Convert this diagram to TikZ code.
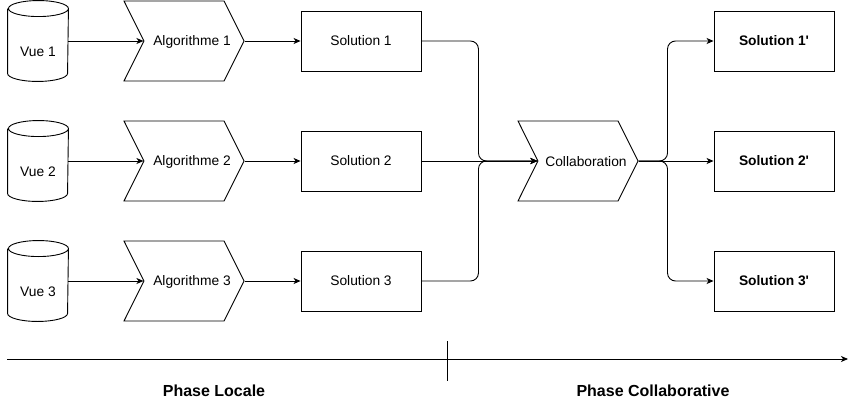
\documentclass[tikz,border=0pt]{standalone}
\usepackage{fontspec}
\setmainfont{Liberation Sans}
\usetikzlibrary{shapes.symbols, arrows.meta}

\begin{document}
\begin{tikzpicture}[x=1pt, y=1pt, line width=0.9pt, >={Stealth[length=7pt, width=6pt, inset=2pt]},
    every node/.style={font=\fontsize{13.8}{16}\selectfont},
    vue/.style={rectangle, minimum width=60pt, minimum height=80pt, inner sep=0pt},
    algo/.style={draw, signal, signal from=west, signal to=east, signal pointer angle=127, minimum width=120pt, minimum height=80pt, inner sep=0pt},
    sol/.style={draw, rectangle, minimum width=120pt, minimum height=60pt, inner sep=0pt},
    solb/.style={sol, font=\fontsize{13.8}{16}\selectfont\bfseries},
    phase/.style={font=\fontsize{16}{18}\selectfont\bfseries},
    lien/.style={->, rounded corners=8pt}]

    % cadre
    \useasboundingbox (0,0) rectangle (856,-401);

    % vues (cylindres)
    \node[vue, label={[yshift=-11pt]center:Vue 1}] (v1) at (38,-41) {};
    \node[vue, label={[yshift=-11pt]center:Vue 2}] (v2) at (38,-161) {};
    \node[vue, label={[yshift=-11pt]center:Vue 3}] (v3) at (38,-281) {};
    \foreach \v in {v1,v2,v3}
        \draw ([yshift=-8pt]\v.north west) -- ([yshift=8pt]\v.south west)
            arc[start angle=180, end angle=360, x radius=30pt, y radius=8pt]
            -- ([yshift=-8pt]\v.north east)
            arc[start angle=0, end angle=180, x radius=30pt, y radius=8pt]
            arc[start angle=180, end angle=360, x radius=30pt, y radius=8pt];

    % algorithmes locaux
    \node[algo, label={[xshift=8pt, yshift=-1pt]center:Algorithme 1}] (a1) at (184,-41) {};
    \node[algo, label={[xshift=8pt, yshift=-1pt]center:Algorithme 2}] (a2) at (184,-161) {};
    \node[algo, label={[xshift=8pt, yshift=-1pt]center:Algorithme 3}] (a3) at (184,-281) {};

    % solutions locales
    \node[sol] (s1) at (361,-41) {Solution 1};
    \node[sol] (s2) at (361,-161) {Solution 2};
    \node[sol] (s3) at (361,-281) {Solution 3};

    % collaboration
    \node[algo, label={[xshift=8pt, yshift=-1pt]center:Collaboration}] (c) at (578,-161) {};

    % solutions finales
    \node[solb] (r1) at (774,-41) {Solution 1\textquotesingle};
    \node[solb] (r2) at (774,-161) {Solution 2\textquotesingle};
    \node[solb] (r3) at (774,-281) {Solution 3\textquotesingle};

    % liens
    \draw[lien] (v1) -- (a1);
    \draw[lien] (v2) -- (a2);
    \draw[lien] (v3) -- (a3);
    \draw[lien] (a1.east) -- (s1);
    \draw[lien] (a2.east) -- (s2);
    \draw[lien] (a3.east) -- (s3);
    \draw[lien] (s1.east) -- ++(57,0) |- (c);
    \draw[lien] (s2.east) -- (c);
    \draw[lien] (s3.east) -- ++(57,0) |- (c);
    \draw[lien] (c.east) -- ++(29,0) |- (r1);
    \draw[lien] (c.east) -- (r2);
    \draw[lien] (c.east) -- ++(29,0) |- (r3);

    % axe des phases
    \coordinate (t0) at (7,-359);
    \coordinate (t1) at (848,-359);
    \coordinate (m0) at (447,-341);
    \coordinate (m1) at (447,-381);
    \draw[->] (t0) -- (t1);
    \draw (m0) -- (m1);
    \node[phase] (p1) at (214,-391) {Phase Locale};
    \node[phase] (p2) at (653,-391) {Phase Collaborative};

\end{tikzpicture}
\end{document}
